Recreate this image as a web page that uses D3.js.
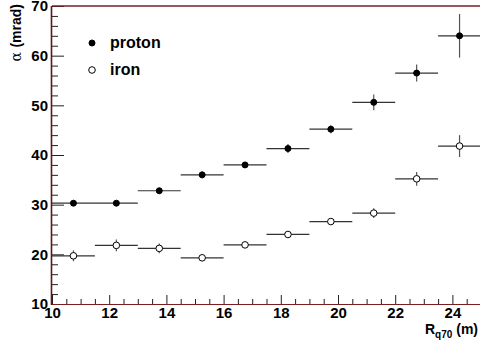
<!DOCTYPE html>
<html>
<head>
<meta charset="utf-8">
<script src="https://cdn.jsdelivr.net/npm/d3@7"></script>
<style>
body { margin: 0; background: #fff; }
svg { display: block; font-family: "Liberation Sans", Arial, sans-serif; }
</style>
</head>
<body>
<div id="chart"></div>
<script>
// bin centres in R_q70 (m), bin width 1.5
var binCentres = [10.75, 12.25, 13.75, 15.25, 16.75, 18.25, 19.75, 21.25, 22.75, 24.25];
var binHalfWidth = 0.75;

var protonAlpha = [30.3, 30.3, 32.8, 36.0, 38.0, 41.3, 45.2, 50.6, 56.5, 64.0];
var protonErr   = [0.4, 0.4, 0.5, 0.7, 0.6, 0.9, 0.8, 1.6, 1.7, 4.4];

var ironAlpha = [19.7, 21.8, 21.2, 19.3, 21.9, 24.0, 26.6, 28.3, 35.2, 41.8];
var ironErr   = [1.1, 1.2, 1.0, 0.4, 0.5, 0.5, 0.5, 1.0, 1.4, 2.2];

var xTicks = [10, 12, 14, 16, 18, 20, 22, 24];
var yTicks = [10, 20, 30, 40, 50, 60, 70];

var width = 480, height = 346;
var padL = 52, padR = 481, padT = 6, padB = 304;

var svg = d3.select('#chart').append('svg')
	.attr('width', width)
	.attr('height', height)
	.attr('viewBox', `0 0 ${width} ${height}`);

var x = d3.scaleLinear().domain([10, 25]).range([padL, padR]);
var y = d3.scaleLinear().domain([10, 70]).range([padB, padT]);

// inward ticks, ROOT style
var xMinor = d3.range(10, 25.01, 0.5).filter(function(v) { return v % 2 !== 0; });
var yMinor = d3.range(10, 70.01, 2).filter(function(v) { return v % 10 !== 0; });

svg.append('g').attr('transform', `translate(0,${padB})`)
	.call(d3.axisBottom(x).tickValues(xTicks).tickSize(-9).tickPadding(3).tickFormat(d3.format('d')));
svg.append('g').attr('transform', `translate(0,${padB})`)
	.call(d3.axisBottom(x).tickValues(xMinor).tickSize(-5).tickFormat(''));

svg.append('g').attr('transform', `translate(${padL},0)`)
	.call(d3.axisLeft(y).tickValues(yTicks).tickSize(-12).tickPadding(4).tickFormat(d3.format('d')));
svg.append('g').attr('transform', `translate(${padL},0)`)
	.call(d3.axisLeft(y).tickValues(yMinor).tickSize(-6).tickFormat(''));

svg.selectAll('.domain').remove();
svg.selectAll('.tick line').attr('stroke', '#222');
svg.selectAll('.tick text')
	.attr('font-size', 15)
	.attr('font-weight', 'bold')
	.attr('fill', '#000');

// frame lines (dark red like the original)
svg.append('line').attr('x1', padL).attr('x2', padR).attr('y1', padB + 0.5).attr('y2', padB + 0.5)
	.attr('stroke', '#7a1f1f').attr('stroke-width', 1.2);
svg.append('line').attr('x1', padL).attr('x2', padR).attr('y1', padT).attr('y2', padT)
	.attr('stroke', '#7a1f1f').attr('stroke-width', 1.6);
svg.append('line').attr('x1', padL - 0.5).attr('x2', padL - 0.5).attr('y1', padT).attr('y2', padB + 1)
	.attr('stroke', '#5a1a1a').attr('stroke-width', 1.6);

function drawSeries(vals, errs, filled) {
	var g = svg.append('g');
	var pts = binCentres.map(function(c, i) { return { x: c, y: vals[i], e: errs[i] }; });
	g.selectAll('line.h').data(pts).enter().append('line')
		.attr('x1', function(d) { return x(d.x - binHalfWidth); })
		.attr('x2', function(d) { return x(d.x + binHalfWidth); })
		.attr('y1', function(d) { return y(d.y); })
		.attr('y2', function(d) { return y(d.y); })
		.attr('stroke', '#333').attr('stroke-width', 1.2);
	g.selectAll('line.v').data(pts).enter().append('line')
		.attr('x1', function(d) { return x(d.x); })
		.attr('x2', function(d) { return x(d.x); })
		.attr('y1', function(d) { return y(d.y - d.e); })
		.attr('y2', function(d) { return y(d.y + d.e); })
		.attr('stroke', '#555').attr('stroke-width', 1.2);
	g.selectAll('circle').data(pts).enter().append('circle')
		.attr('cx', function(d) { return x(d.x); })
		.attr('cy', function(d) { return y(d.y); })
		.attr('r', filled ? 3 : 3.3)
		.attr('fill', filled ? '#000' : '#fff')
		.attr('stroke', '#000')
		.attr('stroke-width', 1);
}

drawSeries(protonAlpha, protonErr, true);
drawSeries(ironAlpha, ironErr, false);

// legend
var legend = [
	{ label: 'proton', filled: true, y: 43 },
	{ label: 'iron', filled: false, y: 70 }
];
legend.forEach(function(l) {
	svg.append('circle').attr('cx', 92).attr('cy', l.y).attr('r', l.filled ? 3 : 3.3)
		.attr('fill', l.filled ? '#000' : '#fff').attr('stroke', '#000');
	svg.append('text').attr('x', 110).attr('y', l.y + 5)
		.attr('font-size', 16).attr('font-weight', 'bold').text(l.label);
});

// axis titles
var xt = svg.append('text').attr('x', 478).attr('y', 334).attr('text-anchor', 'end')
	.attr('font-size', 14).attr('font-weight', 'bold');
xt.append('tspan').text('R');
xt.append('tspan').attr('font-size', 10).attr('dy', 4).text('q70');
xt.append('tspan').attr('dy', -4).text(' (m)');

var yt = svg.append('text').attr('transform', 'translate(21,4) rotate(-90)')
	.attr('text-anchor', 'end').attr('font-size', 14);
yt.append('tspan').attr('font-family', '"DejaVu Serif", serif').text('α ');
yt.append('tspan').attr('font-weight', 'bold').text('(mrad)');
</script>
</body>
</html>
